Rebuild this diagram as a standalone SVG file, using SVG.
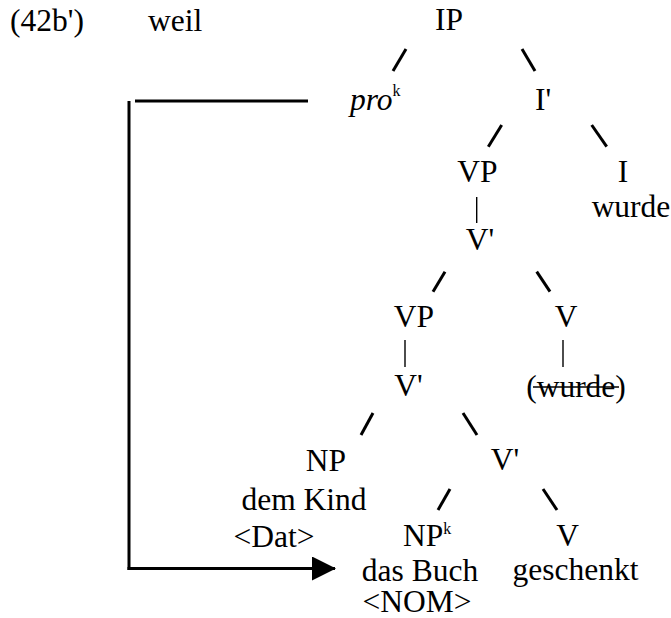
<svg xmlns="http://www.w3.org/2000/svg" width="671" height="618" viewBox="0 0 671 618">
<style>
text{font-family:"Liberation Serif","Times New Roman",serif;font-size:31.5px;fill:#000}
.m{text-anchor:middle}
.sup{font-size:16px}
.br{stroke:#000;stroke-width:3;stroke-linecap:butt;fill:none}
.bar{stroke:#000;stroke-width:1.4;fill:none}
.ln{stroke:#000;stroke-width:3;fill:none}
</style>
<defs>
<marker id="ah" viewBox="0 0 24 24" refX="23" refY="12" markerWidth="24" markerHeight="24" markerUnits="userSpaceOnUse" orient="auto">
<path d="M0,0 L24,12 L0,24 Z" fill="#000"/>
</marker>
</defs>
<rect width="671" height="618" fill="#fff"/>
<g id="label"><text x="10" y="31">(42b')</text></g>
<g id="weil"><text x="148" y="31">weil</text></g>
<g id="IP"><text class="m" x="449" y="30">IP</text></g>
<g id="pro"><text x="350" y="110"><tspan font-style="italic">pro</tspan><tspan class="sup" dy="-14">k</tspan></text></g>
<g id="I1"><text class="m" x="543" y="110">I'</text></g>
<g id="VP1"><text class="m" x="477.5" y="182">VP</text></g>
<g id="I"><text class="m" x="623" y="182">I</text></g>
<g id="wurde"><text class="m" x="631" y="217">wurde</text></g>
<g id="V1a"><text class="m" x="480" y="250">V'</text></g>
<g id="VP2"><text class="m" x="414" y="327">VP</text></g>
<g id="V"><text class="m" x="566" y="327">V</text></g>
<g id="V1b"><text class="m" x="408.5" y="396">V'</text></g>
<g id="wurde2"><text class="m" x="576" y="397">(wurde)</text><line x1="533" y1="387" x2="619" y2="387" stroke="#000" stroke-width="1.6"/></g>
<g id="NP1"><text class="m" x="326" y="470.5">NP</text><text class="m" x="304" y="510">dem Kind</text><text class="m" x="274" y="546.5">&lt;Dat&gt;</text></g>
<g id="V1c"><text class="m" x="505" y="470">V'</text></g>
<g id="NP2"><text x="403" y="546">NP<tspan class="sup" dy="-12">k</tspan></text><text class="m" x="420" y="581">das Buch</text><text class="m" x="417" y="611.5">&lt;NOM&gt;</text></g>
<g id="V2"><text class="m" x="567.5" y="546">V</text><text class="m" x="575.5" y="580">geschenkt</text></g>
<g id="connectors">
<line class="br" x1="406" y1="49" x2="393" y2="71"/>
<line class="br" x1="522" y1="49" x2="535" y2="71"/>
<line class="br" x1="501.7" y1="125" x2="488.3" y2="146.7"/>
<line class="br" x1="591.7" y1="125" x2="606.7" y2="146.7"/>
<line class="bar" x1="476.7" y1="197" x2="476.7" y2="223"/>
<line class="br" x1="445" y1="271.7" x2="433" y2="291.7"/>
<line class="br" x1="536.7" y1="271.7" x2="550" y2="291.7"/>
<line class="bar" x1="405" y1="340" x2="405" y2="367"/>
<line class="bar" x1="563" y1="340" x2="563" y2="367"/>
<line class="br" x1="373" y1="413" x2="361" y2="435"/>
<line class="br" x1="463" y1="413" x2="477" y2="435"/>
<line class="br" x1="450" y1="489" x2="438" y2="510"/>
<line class="br" x1="543" y1="489" x2="557" y2="510"/>
<line class="ln" x1="135" y1="101" x2="308" y2="101"/>
<line class="ln" x1="129" y1="101" x2="129" y2="570"/>
<line class="ln" x1="127.5" y1="568.5" x2="335" y2="568.5" marker-end="url(#ah)"/>
</g>
</svg>
